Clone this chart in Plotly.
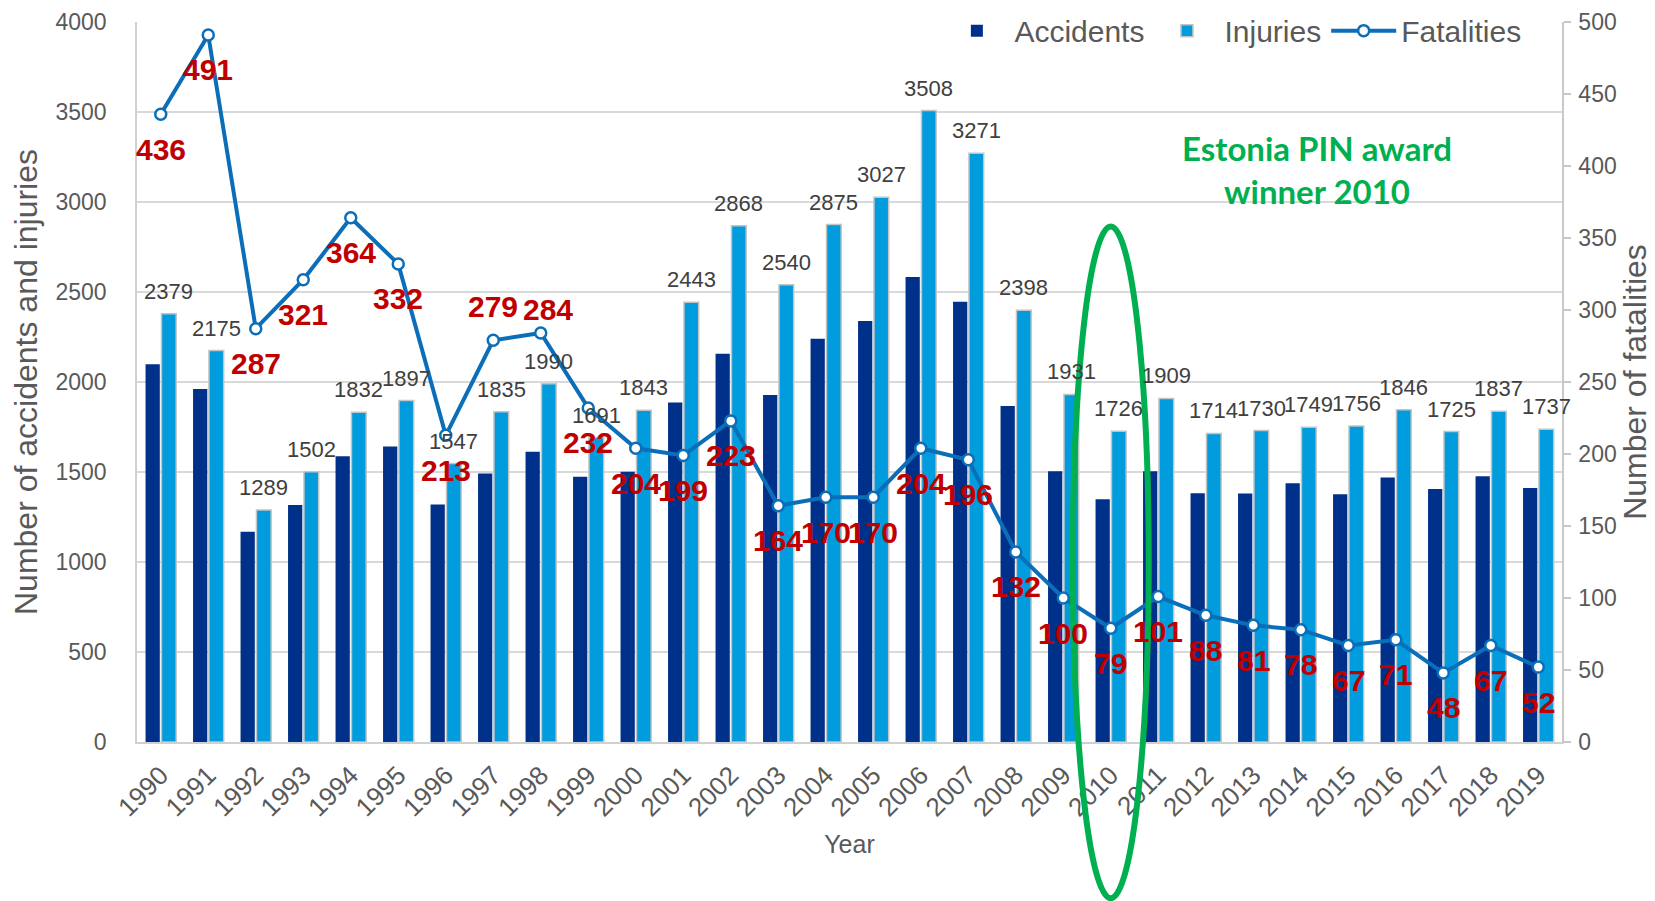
import plotly.graph_objects as go

years = list(range(1990, 2020))
year_labels = [str(y) for y in years]
accidents = [2098, 1961, 1168, 1317, 1587, 1642, 1319, 1491, 1613, 1474,
             1502, 1886, 2157, 1928, 2240, 2339, 2583, 2446, 1867, 1504,
             1349, 1504, 1382, 1380, 1437, 1376, 1469, 1406, 1476, 1411]
injuries = [2379, 2175, 1289, 1502, 1832, 1897, 1547, 1835, 1990, 1691,
            1843, 2443, 2868, 2540, 2875, 3027, 3508, 3271, 2398, 1931,
            1726, 1909, 1714, 1730, 1749, 1756, 1846, 1725, 1837, 1737]
fatalities = [436, 491, 287, 321, 364, 332, 213, 279, 284, 232,
              204, 199, 223, 164, 170, 170, 204, 196, 132, 100,
              79, 101, 88, 81, 78, 67, 71, 48, 67, 52]

award_year = 2010
award_text = "Estonia PIN award<br>winner 2010"

C_ACC = "#00318A"
C_INJ = "#009CDD"
C_LINE = "#0B6EB9"
C_RED = "#C00000"
C_GREEN = "#00B050"
C_TXT = "#595959"
FONT = "Liberation Sans, Arial, sans-serif"

ACC_OFF, ACC_W = -0.32, 0.30
INJ_OFF, INJ_W = 0.015, 0.31

fig = go.Figure()
fig.add_trace(go.Bar(x=years, y=accidents, name="Accidents", offset=ACC_OFF, width=ACC_W,
                     marker=dict(color=C_ACC, line=dict(width=0)), yaxis="y"))
fig.add_trace(go.Bar(x=years, y=injuries, name="Injuries", offset=INJ_OFF, width=INJ_W,
                     marker=dict(color=C_INJ, line=dict(color="#C4C4C4", width=1.5)), yaxis="y"))
fig.add_trace(go.Scatter(x=years, y=fatalities, name="Fatalities", mode="lines+markers",
                         line=dict(color=C_LINE, width=4),
                         marker=dict(symbol="circle", size=11, color="white",
                                     line=dict(color=C_LINE, width=2.5)),
                         yaxis="y2"))

annotations = []
# injuries labels
for yr, v in zip(years, injuries):
    annotations.append(dict(x=yr + INJ_OFF + INJ_W / 2, y=v, xref="x", yref="y",
                            text=str(v), showarrow=False, yanchor="bottom", yshift=8,
                            font=dict(family=FONT, size=22, color="#404040")))
# fatalities labels
special = {1997: (0, 69), 1998: (7, 59)}
for yr, v in zip(years, fatalities):
    xs, ys = special.get(yr, (0, 0))
    annotations.append(dict(x=yr, y=v, xref="x", yref="y2", text=str(v), showarrow=False,
                            yanchor="middle", yshift=-35 + ys, xshift=xs,
                            font=dict(family=FONT, size=30, color=C_RED, weight="bold")))
# award text
annotations.append(dict(x=0.828, y=0.795, xref="paper", yref="paper", text=award_text,
                        showarrow=False, align="center", xanchor="center", yanchor="middle",
                        font=dict(family="Lato, sans-serif", size=33, color=C_GREEN, weight="bold")))

x_lo, x_hi = years[0] - 0.5, years[-1] + 0.5
span = x_hi - x_lo
shapes = [dict(type="circle", xref="x domain", yref="y domain",
               x0=(award_year - 0.8 - x_lo) / span, x1=(award_year + 0.8 - x_lo) / span,
               y0=-0.217, y1=0.716, line=dict(color=C_GREEN, width=6), layer="above")]

fig.update_layout(
    width=1647, height=893,
    margin=dict(l=129, r=93, t=14, b=159, autoexpand=False),
    paper_bgcolor="white", plot_bgcolor="white",
    font=dict(family=FONT, color=C_TXT),
    barmode="overlay",
    showlegend=True,
    legend=dict(orientation="h", x=0.975, xanchor="right", y=0.988, yanchor="middle",
                bgcolor="rgba(0,0,0,0)", font=dict(size=30, color=C_TXT),
                itemwidth=65, traceorder="normal"),
    xaxis=dict(range=[x_lo, x_hi], tickvals=years, ticktext=year_labels, tickangle=-45,
               tickfont=dict(size=26, color=C_TXT), showgrid=False, ticks="",
               ticklabelstandoff=6, ticklabeloverflow="allow",
               showline=True, linecolor="#D0D0D0", linewidth=1.5,
               title=dict(text="Year", font=dict(size=25, color=C_TXT), standoff=14)),
    yaxis=dict(range=[0, 4000], dtick=500, tickfont=dict(size=23, color=C_TXT),
               showgrid=True, gridcolor="#D9D9D9", gridwidth=1.5, zeroline=False,
               showline=True, linecolor="#D0D0D0", linewidth=1.5, ticks="",
               ticklabelstandoff=24, ticklabeloverflow="allow",
               title=dict(text="Number of accidents and injuries", font=dict(size=32, color=C_TXT),
                          standoff=16)),
    yaxis2=dict(range=[0, 500], dtick=50, overlaying="y", side="right",
                tickfont=dict(size=23, color=C_TXT), showgrid=False, zeroline=False,
                showline=True, linecolor="#C8C8C8", linewidth=1.5,
                ticks="outside", ticklen=7, tickcolor="#C8C8C8", tickwidth=1.5,
                ticklabelstandoff=3, ticklabeloverflow="allow",
                title=dict(text="Number of fatalities", font=dict(size=32, color=C_TXT), standoff=0)),
    annotations=annotations,
    shapes=shapes,
)

fig.write_html("out.html")
